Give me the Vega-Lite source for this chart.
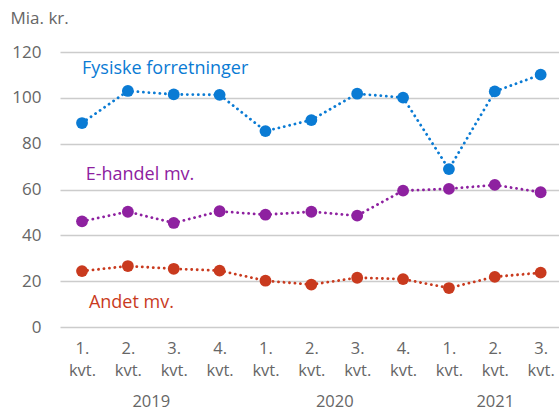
{
  "$schema": "https://vega.github.io/schema/vega-lite/v6.json",
  "width": 499,
  "height": 275,
  "autosize": "none",
  "padding": {"left": 60, "top": 52, "right": 0, "bottom": 85},
  "background": "white",
  "config": {
    "view": {"stroke": null},
    "font": "Open Sans",
    "axis": {"labelFont": "Open Sans", "titleFont": "Open Sans"}
  },
  "datasets": {
    "series": [
      {"q": 1, "serie": "Fysiske forretninger", "v": 89.0},
      {"q": 2, "serie": "Fysiske forretninger", "v": 103.0},
      {"q": 3, "serie": "Fysiske forretninger", "v": 101.5},
      {"q": 4, "serie": "Fysiske forretninger", "v": 101.3},
      {"q": 5, "serie": "Fysiske forretninger", "v": 85.5},
      {"q": 6, "serie": "Fysiske forretninger", "v": 90.3},
      {"q": 7, "serie": "Fysiske forretninger", "v": 101.8},
      {"q": 8, "serie": "Fysiske forretninger", "v": 100.1},
      {"q": 9, "serie": "Fysiske forretninger", "v": 68.9},
      {"q": 10, "serie": "Fysiske forretninger", "v": 102.8},
      {"q": 11, "serie": "Fysiske forretninger", "v": 110.1},
      {"q": 1, "serie": "E-handel mv.", "v": 46.1},
      {"q": 2, "serie": "E-handel mv.", "v": 50.3},
      {"q": 3, "serie": "E-handel mv.", "v": 45.4},
      {"q": 4, "serie": "E-handel mv.", "v": 50.5},
      {"q": 5, "serie": "E-handel mv.", "v": 49.0},
      {"q": 6, "serie": "E-handel mv.", "v": 50.3},
      {"q": 7, "serie": "E-handel mv.", "v": 48.6},
      {"q": 8, "serie": "E-handel mv.", "v": 59.5},
      {"q": 9, "serie": "E-handel mv.", "v": 60.3},
      {"q": 10, "serie": "E-handel mv.", "v": 62.0},
      {"q": 11, "serie": "E-handel mv.", "v": 58.8},
      {"q": 1, "serie": "Andet mv.", "v": 24.4},
      {"q": 2, "serie": "Andet mv.", "v": 26.6},
      {"q": 3, "serie": "Andet mv.", "v": 25.4},
      {"q": 4, "serie": "Andet mv.", "v": 24.6},
      {"q": 5, "serie": "Andet mv.", "v": 20.2},
      {"q": 6, "serie": "Andet mv.", "v": 18.5},
      {"q": 7, "serie": "Andet mv.", "v": 21.5},
      {"q": 8, "serie": "Andet mv.", "v": 20.9},
      {"q": 9, "serie": "Andet mv.", "v": 17.0},
      {"q": 10, "serie": "Andet mv.", "v": 21.9},
      {"q": 11, "serie": "Andet mv.", "v": 23.7}
    ],
    "labels": [
      {"q": 1.0, "v": 112.6, "serie": "Fysiske forretninger"},
      {"q": 1.08, "v": 66.3, "serie": "E-handel mv."},
      {"q": 1.15, "v": 10.5, "serie": "Andet mv."}
    ]
  },
  "resolve": {"scale": {"x": "shared", "y": "shared"}, "axis": {"x": "independent"}},
  "layer": [
    {
      "data": {"name": "series"},
      "mark": {"type": "line", "strokeWidth": 2.8, "strokeCap": "round", "strokeDash": [0.1, 5.4]},
      "encoding": {
        "x": {
          "field": "q", "type": "quantitative",
          "scale": {"domain": [0.52, 11.4], "nice": false, "zero": false},
          "axis": {
            "values": [1, 2, 3, 4, 5, 6, 7, 8, 9, 10, 11],
            "labelExpr": "['' + (((datum.value - 1) % 4) + 1) + '.', 'kvt.']",
            "title": null, "grid": false, "domain": false, "ticks": false,
            "labelFontSize": 16.5, "labelColor": "#666666", "labelPadding": 13,
            "labelBaseline": "top", "labelLineHeight": 22, "labelAlign": "center",
            "orient": "bottom"
          }
        },
        "y": {
          "field": "v", "type": "quantitative",
          "scale": {"domain": [0, 120], "nice": false},
          "axis": {
            "values": [0, 20, 40, 60, 80, 100, 120],
            "title": "Mia. kr.", "titleAngle": 0, "titleAlign": "left",
            "titleBaseline": "middle", "titleX": -50, "titleY": -34,
            "titleFontSize": 17, "titleFontWeight": "normal", "titleColor": "#666666",
            "grid": true, "gridColor": "#cccccc", "gridWidth": 1.5,
            "domain": false, "ticks": false,
            "labelFontSize": 17, "labelColor": "#666666", "labelPadding": 19
          }
        },
        "color": {
          "field": "serie", "type": "nominal", "legend": null,
          "scale": {
            "domain": ["Fysiske forretninger", "E-handel mv.", "Andet mv."],
            "range": ["#0A7BD4", "#8E21A0", "#C93A1E"]
          }
        },
        "detail": {"field": "serie"}
      }
    },
    {
      "data": {"name": "series"},
      "mark": {"type": "circle", "size": 140, "opacity": 1},
      "encoding": {
        "x": {"field": "q", "type": "quantitative", "axis": null},
        "y": {"field": "v", "type": "quantitative"},
        "color": {"field": "serie", "type": "nominal", "legend": null}
      }
    },
    {
      "data": {"name": "labels"},
      "mark": {"type": "text", "align": "left", "baseline": "middle", "fontSize": 18},
      "encoding": {
        "x": {
          "field": "q", "type": "quantitative",
          "axis": {
            "orient": "bottom",
            "values": [2.5, 6.5, 10],
            "labelExpr": "datum.value < 4 ? '2019' : (datum.value < 8 ? '2020' : '2021')",
            "title": null, "grid": false, "domain": false, "ticks": false,
            "labelFontSize": 16.5, "labelColor": "#666666", "labelPadding": 66,
            "labelBaseline": "top", "labelAlign": "center"
          }
        },
        "y": {"field": "v", "type": "quantitative"},
        "text": {"field": "serie"},
        "color": {
          "field": "serie", "type": "nominal", "legend": null,
          "scale": {
            "domain": ["Fysiske forretninger", "E-handel mv.", "Andet mv."],
            "range": ["#1F87DA", "#A040B0", "#D5472A"]
          }
        }
      }
    }
  ]
}
